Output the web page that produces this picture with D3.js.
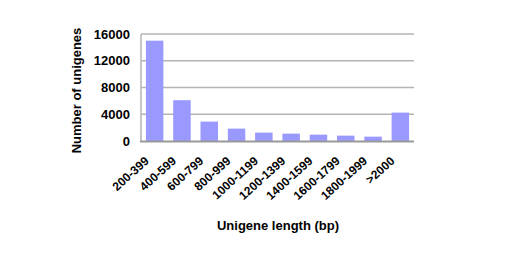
<!DOCTYPE html>
<html>
<head>
<meta charset="utf-8">
<script src="https://cdn.jsdelivr.net/npm/d3@7"></script>
<style>
  body { margin: 0; background: #fff; }
  text { font-family: "Liberation Sans", Arial, sans-serif; font-weight: bold; fill: #000; }
</style>
</head>
<body>
<svg id="chart" width="522" height="272"></svg>
<script>
const categories = ["200-399", "400-599", "600-799", "800-999", "1000-1199",
  "1200-1399", "1400-1599", "1600-1799", "1800-1999", ">2000"];
const counts = [15000, 6100, 2900, 1850, 1250, 1100, 950, 800, 650, 4250];
const yTicks = [0, 4000, 8000, 12000, 16000];

const svg = d3.select("#chart");
const plotLeft = 141, plotRight = 414, plotTop = 34, plotBottom = 141;

const x = d3.scaleBand()
  .domain(categories)
  .range([plotLeft, plotRight])
  .paddingInner(0.36)
  .paddingOuter(0.18);

const y = d3.scaleLinear()
  .domain([0, 16000])
  .range([plotBottom, plotTop]);

// gridlines
svg.append("g")
  .selectAll("line")
  .data(yTicks.slice(1))
  .enter()
  .append("line")
  .attr("x1", plotLeft)
  .attr("x2", plotRight)
  .attr("y1", d => y(d))
  .attr("y2", d => y(d))
  .attr("stroke", "#b4b4b4")
  .attr("stroke-width", 1.5);

// left border
svg.append("line")
  .attr("x1", plotLeft).attr("x2", plotLeft)
  .attr("y1", plotTop).attr("y2", plotBottom)
  .attr("stroke", "#b4b4b4")
  .attr("stroke-width", 1.5);

// bars
svg.append("g")
  .selectAll("rect")
  .data(categories)
  .enter()
  .append("rect")
  .attr("x", d => x(d))
  .attr("width", x.bandwidth())
  .attr("y", (d, i) => y(counts[i]))
  .attr("height", (d, i) => plotBottom - y(counts[i]))
  .attr("fill", "#9999ff");

// x axis line
svg.append("line")
  .attr("x1", plotLeft - 1).attr("x2", plotRight)
  .attr("y1", plotBottom + 0.5).attr("y2", plotBottom + 0.5)
  .attr("stroke", "#999")
  .attr("stroke-width", 2);

// y tick labels
svg.append("g")
  .selectAll("text")
  .data(yTicks)
  .enter()
  .append("text")
  .attr("x", 130)
  .attr("y", d => y(d) + 4.5)
  .attr("text-anchor", "end")
  .attr("font-size", 13)
  .text(d => d);

// x tick labels
svg.append("g")
  .selectAll("text")
  .data(categories)
  .enter()
  .append("text")
  .attr("transform", d => `translate(${x(d) + x.bandwidth() / 2 - 5}, ${plotBottom + 21}) rotate(-42)`)
  .attr("text-anchor", "end")
  .attr("font-size", 12)
  .text(d => d);

// axis titles
svg.append("text")
  .attr("transform", `translate(81, ${(plotTop + plotBottom) / 2 + 3}) rotate(-90)`)
  .attr("text-anchor", "middle")
  .attr("font-size", 13)
  .text("Number of unigenes");

svg.append("text")
  .attr("x", 278)
  .attr("y", 230)
  .attr("text-anchor", "middle")
  .attr("font-size", 13)
  .text("Unigene length (bp)");
</script>
</body>
</html>
